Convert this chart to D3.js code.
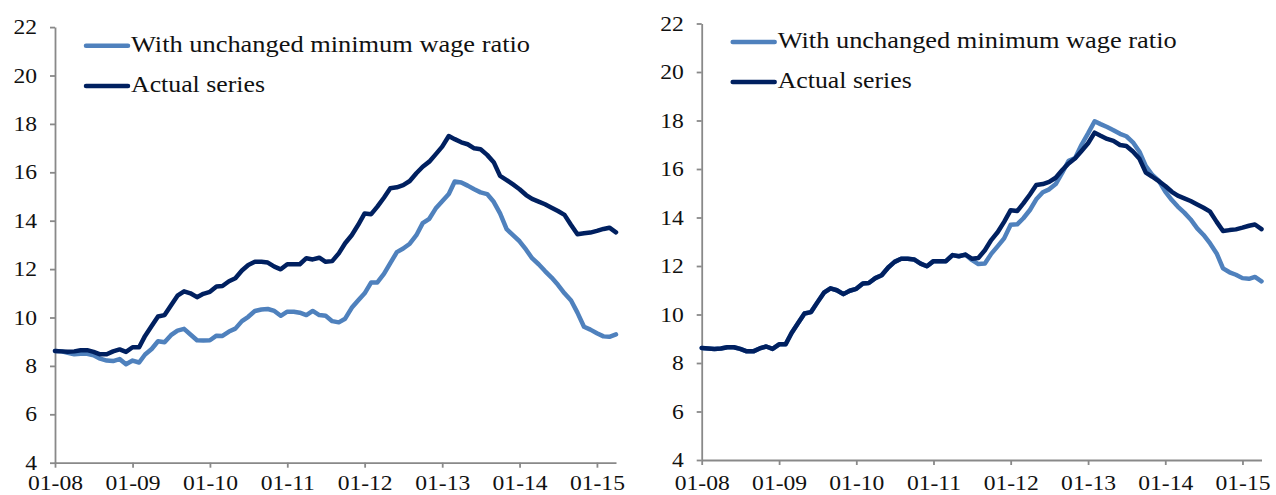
<!DOCTYPE html>
<html><head><meta charset="utf-8">
<script src="https://cdn.jsdelivr.net/npm/d3@7"></script>
<style>body{margin:0;background:#fff} svg{display:block}</style>
</head><body><svg id="c" width="1276" height="495"></svg>
<script>
const months = [
 "2008-01","2008-02","2008-03","2008-04","2008-05","2008-06","2008-07","2008-08","2008-09","2008-10","2008-11","2008-12",
 "2009-01","2009-02","2009-03","2009-04","2009-05","2009-06","2009-07","2009-08","2009-09","2009-10","2009-11","2009-12",
 "2010-01","2010-02","2010-03","2010-04","2010-05","2010-06","2010-07","2010-08","2010-09","2010-10","2010-11","2010-12",
 "2011-01","2011-02","2011-03","2011-04","2011-05","2011-06","2011-07","2011-08","2011-09","2011-10","2011-11","2011-12",
 "2012-01","2012-02","2012-03","2012-04","2012-05","2012-06","2012-07","2012-08","2012-09","2012-10","2012-11","2012-12",
 "2013-01","2013-02","2013-03","2013-04","2013-05","2013-06","2013-07","2013-08","2013-09","2013-10","2013-11","2013-12",
 "2014-01","2014-02","2014-03","2014-04","2014-05","2014-06","2014-07","2014-08","2014-09","2014-10","2014-11","2014-12",
 "2015-01","2015-02","2015-03","2015-04"];

const actualSeries = [
 8.62,8.60,8.58,8.60,8.65,8.65,8.58,8.48,8.48,8.60,8.68,8.58,
 8.77,8.77,9.24,9.65,10.04,10.10,10.50,10.90,11.08,11.00,10.84,10.98,
 11.06,11.28,11.30,11.50,11.62,11.94,12.17,12.30,12.30,12.27,12.10,11.99,
 12.20,12.20,12.20,12.45,12.40,12.47,12.30,12.33,12.65,13.07,13.40,13.82,
 14.30,14.27,14.58,14.95,15.34,15.38,15.47,15.64,15.96,16.23,16.44,16.74,
 17.06,17.50,17.37,17.24,17.16,16.99,16.95,16.72,16.42,15.85,15.68,15.50,
 15.30,15.06,14.90,14.79,14.68,14.54,14.40,14.24,13.82,13.44,13.48,13.51,
 13.58,13.66,13.71,13.52];

const unchangedLeft = [
 8.62,8.60,8.54,8.48,8.50,8.50,8.44,8.30,8.22,8.20,8.28,8.07,
 8.22,8.14,8.47,8.70,9.02,8.98,9.27,9.46,9.53,9.30,9.06,9.05,
 9.06,9.25,9.24,9.42,9.54,9.85,10.03,10.27,10.33,10.35,10.27,10.07,
 10.24,10.24,10.20,10.10,10.27,10.10,10.07,9.85,9.80,9.95,10.40,10.70,
 11.00,11.45,11.45,11.80,12.25,12.70,12.85,13.05,13.40,13.90,14.08,14.50,
 14.80,15.10,15.62,15.58,15.45,15.30,15.17,15.10,14.78,14.30,13.65,13.40,
 13.15,12.80,12.45,12.20,11.92,11.65,11.35,11.00,10.70,10.20,9.62,9.50,
 9.35,9.22,9.20,9.30];

const unchangedRight = [
 8.62,8.60,8.58,8.60,8.65,8.65,8.58,8.48,8.48,8.60,8.68,8.58,
 8.77,8.77,9.24,9.65,10.04,10.10,10.50,10.90,11.08,11.00,10.84,10.98,
 11.06,11.28,11.30,11.50,11.62,11.94,12.17,12.30,12.30,12.27,12.10,11.99,
 12.20,12.20,12.20,12.45,12.40,12.47,12.25,12.08,12.10,12.50,12.82,13.14,
 13.70,13.72,13.97,14.31,14.75,15.04,15.16,15.38,15.85,16.34,16.45,17.00,
 17.47,17.97,17.85,17.73,17.60,17.45,17.35,17.10,16.71,16.12,15.75,15.52,
 15.07,14.72,14.45,14.20,13.92,13.55,13.28,12.93,12.52,11.90,11.74,11.64,
 11.50,11.47,11.55,11.37];

const yTickValues = [4,6,8,10,12,14,16,18,20,22];
const xTickLabels = ["01-08","01-09","01-10","01-11","01-12","01-13","01-14","01-15"];
const legendLabels = ["With unchanged minimum wage ratio","Actual series"];

const colorUnchanged = "#4f81bd";
const colorActual = "#002060";
const axisColor = "#898989";
const FONT = "'Liberation Serif', 'Times New Roman', serif";

const dates = months.map(d3.timeParse("%Y-%m"));
const xTickDates = xTickLabels.map(d3.timeParse("%m-%y"));

const panels = [
  {x0:55, x1:616, yTop:27.1, yBot:462.7, unchanged: unchangedLeft, legY:[45.7,86]},
  {x0:701.7, x1:1261.5, yTop:23.5, yBot:460, unchanged: unchangedRight, legY:[42,82]}
];

const svg = d3.select("#c");

panels.forEach(p => {
  const x = d3.scaleTime().domain([dates[0], dates[dates.length-1]]).range([p.x0, p.x1]);
  const y = d3.scaleLinear().domain([4,22]).range([p.yBot, p.yTop]);
  const g = svg.append("g");

  const line = d3.line().x((d,i)=>x(dates[i])).y(d=>y(d));

  const yAx = g.append("g").attr("transform",`translate(${p.x0},0)`)
    .call(d3.axisLeft(y).tickValues(yTickValues).tickSize(5).tickSizeOuter(0).tickPadding(13).tickFormat(d3.format("d")));
  const xAx = g.append("g").attr("transform",`translate(0,${p.yBot})`)
    .call(d3.axisBottom(x).tickValues(xTickDates).tickSize(5).tickSizeOuter(0).tickFormat(d3.timeFormat("%m-%y")));
  [yAx,xAx].forEach(a=>{
    a.select(".domain").attr("stroke",axisColor).attr("stroke-width",1.8);
    a.selectAll(".tick line").attr("stroke",axisColor).attr("stroke-width",1.8);
    a.selectAll(".tick text").attr("fill","#111").style("font-family",FONT).style("font-size","20.5px");
  });
  xAx.selectAll(".tick text").attr("dy",null).attr("y", 490.5 - p.yBot).attr("transform","scale(1.15,1)");
  yAx.selectAll(".tick text").attr("transform","scale(1.15,1)").attr("x",-18/1.15);

  g.append("path").datum(p.unchanged).attr("d",line).attr("fill","none")
    .attr("stroke",colorUnchanged).attr("stroke-width",4.5).attr("stroke-linejoin","round").attr("stroke-linecap","round");
  g.append("path").datum(actualSeries).attr("d",line).attr("fill","none")
    .attr("stroke",colorActual).attr("stroke-width",4.5).attr("stroke-linejoin","round").attr("stroke-linecap","round");

  [colorUnchanged,colorActual].forEach((c,i)=>{
    const ly = p.legY[i];
    g.append("line").attr("x1",p.x0+31).attr("x2",p.x0+73).attr("y1",ly).attr("y2",ly)
      .attr("stroke",c).attr("stroke-width",4.5).attr("stroke-linecap","round");
    g.append("text").attr("x",p.x0+76).attr("y",ly+6).text(legendLabels[i])
      .attr("fill","#111").style("font-family",FONT).style("font-size","23px")
      .attr("textLength", i===0 ? 399 : 134).attr("lengthAdjust","spacingAndGlyphs");
  });
});
</script></body></html>
